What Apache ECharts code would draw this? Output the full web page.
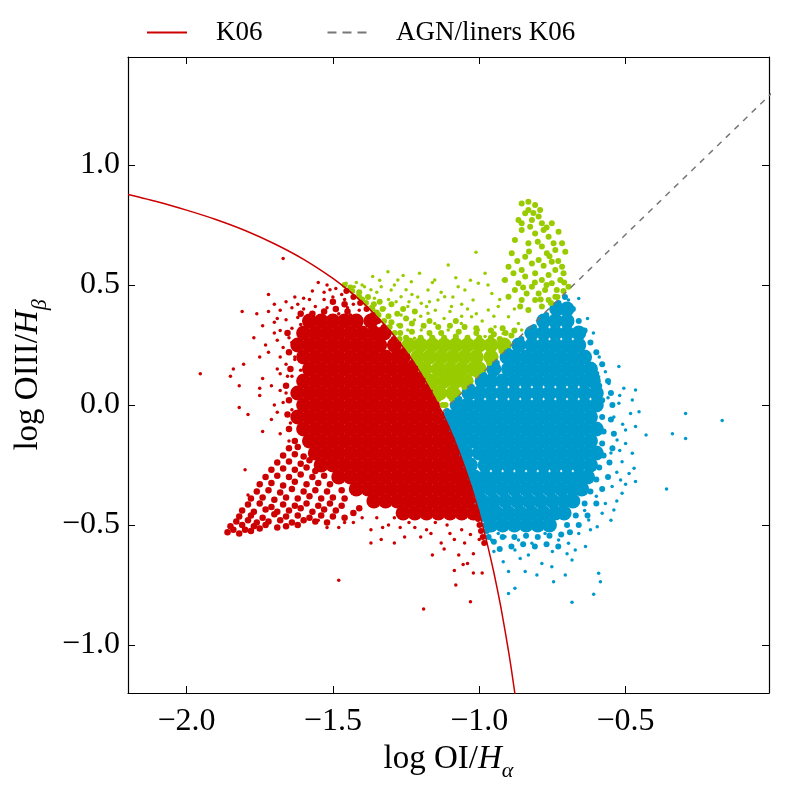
<!DOCTYPE html>
<html>
<head>
<meta charset="utf-8">
<script src="https://cdn.jsdelivr.net/npm/echarts@6/dist/echarts.min.js"></script>
<style>
  html, body { margin: 0; padding: 0; background: #fff; }
  #main { width: 800px; height: 800px; }
</style>
</head>
<body>
<div id="main"></div>
<script>
// tick values
var xTicks = [-2.0, -1.5, -1.0, -0.5];
var yTicks = [-1.0, -0.5, 0.0, 0.5, 1.0];

// K06 demarcation
var k06Line = [[-2.2,0.877],[-2.1,0.847],[-2.0,0.812],[-1.9,0.773],[-1.8,0.727],[-1.7,0.672],
  [-1.6,0.607],[-1.5,0.528],[-1.45,0.481],[-1.4,0.429],[-1.35,0.369],[-1.3,0.302],[-1.25,0.224],
  [-1.2,0.133],[-1.15,0.026],[-1.125,-0.035],[-1.1,-0.101],[-1.075,-0.175],[-1.05,-0.257],
  [-1.025,-0.348],[-1.0,-0.450],[-0.975,-0.566],[-0.95,-0.698],[-0.925,-0.849],[-0.9,-1.025],
  [-0.89,-1.103],[-0.88,-1.187],[-0.878,-1.205]];
// AGN / liners separation
var agnLine = [[-1.13,-0.033],[0.0,1.30]];

// dense cores, rows: [y, x, x, ...]
var redCoreRows = [
  [0.35, -1.58,-1.54,-1.50,-1.46,-1.42,-1.37],
  [0.30, -1.60,-1.56,-1.52,-1.48,-1.44,-1.40,-1.36,-1.325],
  [0.25, -1.62,-1.58,-1.54,-1.50,-1.46,-1.42,-1.38,-1.34,-1.29],
  [0.20, -1.60,-1.56,-1.52,-1.48,-1.44,-1.40,-1.36,-1.32,-1.28,-1.26],
  [0.15, -1.58,-1.54,-1.50,-1.46,-1.42,-1.38,-1.34,-1.30,-1.26,-1.23],
  [0.10, -1.60,-1.56,-1.52,-1.48,-1.44,-1.40,-1.36,-1.32,-1.28,-1.24,-1.205],
  [0.05, -1.62,-1.58,-1.54,-1.50,-1.46,-1.42,-1.38,-1.34,-1.30,-1.26,-1.22,-1.18],
  [0.00, -1.60,-1.56,-1.52,-1.48,-1.44,-1.40,-1.36,-1.32,-1.28,-1.24,-1.20,-1.16],
  [-0.05, -1.62,-1.58,-1.54,-1.50,-1.46,-1.42,-1.38,-1.34,-1.30,-1.26,-1.22,-1.18,-1.14],
  [-0.10, -1.60,-1.56,-1.52,-1.48,-1.44,-1.40,-1.36,-1.32,-1.28,-1.24,-1.20,-1.16,-1.12],
  [-0.15, -1.58,-1.54,-1.50,-1.46,-1.42,-1.38,-1.34,-1.30,-1.26,-1.22,-1.18,-1.14,-1.10],
  [-0.20, -1.56,-1.52,-1.48,-1.44,-1.40,-1.36,-1.32,-1.28,-1.24,-1.20,-1.16,-1.12,-1.087],
  [-0.25, -1.54,-1.50,-1.46,-1.42,-1.38,-1.34,-1.30,-1.26,-1.22,-1.18,-1.14,-1.10,-1.072],
  [-0.30, -1.48,-1.44,-1.40,-1.36,-1.32,-1.28,-1.24,-1.20,-1.16,-1.12,-1.08,-1.058],
  [-0.35, -1.42,-1.38,-1.34,-1.30,-1.26,-1.22,-1.18,-1.14,-1.10,-1.06,-1.045],
  [-0.40, -1.36,-1.32,-1.28,-1.24,-1.20,-1.16,-1.12,-1.08,-1.04],
  [-0.45, -1.26,-1.22,-1.18,-1.14,-1.10,-1.06,-1.02]
];
var greenCoreRows = [
  [0.05, -1.135,-1.09],
  [0.10, -1.16,-1.12,-1.08,-1.045],
  [0.15, -1.185,-1.14,-1.10,-1.06,-1.02,-1.00],
  [0.20, -1.21,-1.17,-1.13,-1.09,-1.05,-1.01,-0.96],
  [0.25, -1.24,-1.20,-1.16,-1.12,-1.08,-1.04,-1.00,-0.96,-0.915]
];
var blueCoreRows = [
  [0.40, -0.735,-0.70],
  [0.35, -0.78,-0.74,-0.70],
  [0.30, -0.82,-0.78,-0.74,-0.70,-0.66],
  [0.25, -0.865,-0.82,-0.78,-0.74,-0.70,-0.66],
  [0.20, -0.905,-0.88,-0.84,-0.80,-0.76,-0.72,-0.68,-0.64],
  [0.15, -0.95,-0.90,-0.86,-0.82,-0.78,-0.74,-0.70,-0.66,-0.62],
  [0.10, -0.99,-0.96,-0.92,-0.88,-0.84,-0.80,-0.76,-0.72,-0.68,-0.64,-0.61],
  [0.05, -1.035,-1.00,-0.96,-0.92,-0.88,-0.84,-0.80,-0.76,-0.72,-0.68,-0.64,-0.60],
  [0.00, -1.075,-1.04,-1.00,-0.96,-0.92,-0.88,-0.84,-0.80,-0.76,-0.72,-0.68,-0.64,-0.60],
  [-0.05, -1.097,-1.06,-1.02,-0.98,-0.94,-0.90,-0.86,-0.82,-0.78,-0.74,-0.70,-0.66,-0.62],
  [-0.10, -1.078,-1.04,-1.00,-0.96,-0.92,-0.88,-0.84,-0.80,-0.76,-0.72,-0.68,-0.64,-0.60],
  [-0.15, -1.06,-1.02,-0.98,-0.94,-0.90,-0.86,-0.82,-0.78,-0.74,-0.70,-0.66,-0.62],
  [-0.20, -1.045,-1.00,-0.96,-0.92,-0.88,-0.84,-0.80,-0.76,-0.72,-0.68,-0.64,-0.60],
  [-0.25, -1.03,-0.98,-0.94,-0.90,-0.86,-0.82,-0.78,-0.74,-0.70,-0.66,-0.62],
  [-0.30, -1.016,-0.98,-0.94,-0.90,-0.86,-0.82,-0.78,-0.74,-0.70,-0.66,-0.63],
  [-0.35, -1.00,-0.96,-0.92,-0.88,-0.84,-0.80,-0.76,-0.72,-0.68,-0.65],
  [-0.40, -0.99,-0.95,-0.91,-0.87,-0.83,-0.79,-0.75,-0.71,-0.68],
  [-0.45, -0.975,-0.94,-0.90,-0.86,-0.82,-0.78,-0.74,-0.71],
  [-0.50, -0.96,-0.92,-0.88,-0.84,-0.80,-0.76]
];

// points hugging the class boundaries
var redEdge = [[-1.454,0.475],[-1.430,0.45],[-1.407,0.425],[-1.385,0.40],[-1.364,0.375],[-1.345,0.35],
  [-1.326,0.325],[-1.309,0.30],[-1.292,0.275],[-1.276,0.25],[-1.261,0.225],[-1.246,0.20],[-1.232,0.175],
  [-1.219,0.15],[-1.206,0.125],[-1.194,0.10],[-1.182,0.075],[-1.170,0.05],[-1.159,0.025],[-1.149,0.0],
  [-1.139,-0.025],[-1.129,-0.05],[-1.120,-0.075],[-1.111,-0.10],[-1.102,-0.125],[-1.093,-0.15],
  [-1.085,-0.175],[-1.077,-0.20],[-1.070,-0.225],[-1.062,-0.25],[-1.055,-0.275],[-1.048,-0.30],
  [-1.041,-0.325],[-1.035,-0.35],[-1.028,-0.375],[-1.022,-0.40],[-1.016,-0.425],[-1.010,-0.45],
  [-1.004,-0.475],[-0.999,-0.50],[-0.994,-0.525],[-0.988,-0.55],[-0.983,-0.575]];
var greenEdge = [[-1.460,0.50],[-1.434,0.475],[-1.410,0.45],[-1.387,0.425],[-1.365,0.40],[-1.344,0.375],
  [-1.325,0.35],[-1.306,0.325],[-1.289,0.30],[-1.272,0.275],[-1.256,0.25],[-1.241,0.225],[-1.226,0.20],
  [-1.212,0.175],[-1.199,0.15],[-1.186,0.125],[-1.174,0.10],[-1.162,0.075],[-1.150,0.05],[-1.139,0.025],
  [-1.125,0.0],[-1.115,0.0],[-1.094,0.025],[-1.072,0.05],[-1.051,0.075],[-1.030,0.10],[-1.009,0.125],
  [-0.988,0.15],[-0.966,0.175],[-0.945,0.20],[-0.924,0.225],[-0.903,0.25],[-0.755,0.425],[-0.733,0.45],
  [-0.712,0.475]];
var blueEdge = [[-1.110,-0.025],[-1.089,0.0],[-1.068,0.025],[-1.046,0.05],[-1.025,0.075],[-1.004,0.10],
  [-0.983,0.125],[-0.962,0.15],[-0.940,0.175],[-0.919,0.20],[-0.898,0.225],[-0.877,0.25],[-0.856,0.275],
  [-0.835,0.30],[-0.813,0.325],[-0.792,0.35],[-0.771,0.375],[-0.750,0.40],[-0.729,0.425],[-0.707,0.45],
  [-1.109,-0.05],[-1.100,-0.075],[-1.091,-0.10],[-1.082,-0.125],[-1.073,-0.15],[-1.065,-0.175],
  [-1.057,-0.20],[-1.050,-0.225],[-1.042,-0.25],[-1.035,-0.275],[-1.028,-0.30],[-1.021,-0.325],
  [-1.015,-0.35],[-1.008,-0.375],[-1.002,-0.40],[-0.996,-0.425],[-0.990,-0.45],[-0.984,-0.475],
  [-0.979,-0.50],[-0.974,-0.525],[-0.968,-0.55]];

// medium-density areas
var redWing = [
  [-1.86,-0.53],[-1.84,-0.52],[-1.82,-0.535],[-1.80,-0.52],[-1.78,-0.525],[-1.75,-0.515],
  [-1.85,-0.505],[-1.81,-0.50],[-1.77,-0.505],[-1.73,-0.50],[-1.69,-0.51],[-1.66,-0.505],[-1.62,-0.50],
  [-1.83,-0.485],[-1.79,-0.48],[-1.76,-0.49],[-1.72,-0.485],[-1.68,-0.48],[-1.64,-0.49],[-1.60,-0.48],
  [-1.56,-0.485],[-1.52,-0.49],
  [-1.82,-0.465],[-1.78,-0.46],[-1.74,-0.47],[-1.70,-0.455],[-1.66,-0.465],[-1.62,-0.46],[-1.58,-0.47],
  [-1.54,-0.46],[-1.50,-0.465],[-1.46,-0.47],
  [-1.81,-0.44],[-1.77,-0.445],[-1.73,-0.435],[-1.69,-0.445],[-1.65,-0.44],[-1.61,-0.43],[-1.57,-0.445],
  [-1.53,-0.435],[-1.49,-0.44],[-1.43,-0.45],
  [-1.79,-0.415],[-1.75,-0.41],[-1.71,-0.425],[-1.67,-0.415],[-1.63,-0.42],[-1.59,-0.41],[-1.55,-0.42],
  [-1.51,-0.41],[-1.47,-0.42],[-1.41,-0.43],
  [-1.78,-0.39],[-1.74,-0.385],[-1.70,-0.395],[-1.66,-0.385],[-1.62,-0.39],[-1.58,-0.38],[-1.54,-0.39],
  [-1.50,-0.385],[-1.46,-0.39],
  [-1.76,-0.36],[-1.72,-0.355],[-1.68,-0.365],[-1.64,-0.35],[-1.60,-0.36],[-1.56,-0.355],[-1.52,-0.36],
  [-1.47,-0.355],
  [-1.75,-0.33],[-1.71,-0.325],[-1.67,-0.335],[-1.63,-0.32],[-1.59,-0.33],[-1.55,-0.325],[-1.51,-0.33],
  [-1.73,-0.30],[-1.69,-0.295],[-1.65,-0.30],[-1.61,-0.29],[-1.57,-0.30],[-1.53,-0.295],
  [-1.71,-0.27],[-1.67,-0.265],[-1.63,-0.27],[-1.59,-0.26],[-1.56,-0.275],
  [-1.69,-0.24],[-1.65,-0.235],[-1.61,-0.245],[-1.58,-0.23],
  [-1.67,-0.21],[-1.63,-0.205],[-1.60,-0.215],
  [-1.65,-0.18],[-1.62,-0.175],[-1.63,-0.15],
  [-1.655,0.30],[-1.65,0.22],[-1.645,0.15],[-1.66,0.08],[-1.65,0.02],[-1.655,-0.04],[-1.65,-0.10],
  [-1.53,0.39],[-1.49,0.40],[-1.45,0.39],[-1.57,0.38],[-1.61,0.38],[-1.50,0.43],[-1.46,0.42]
];
var greenMid = [
  [-1.44,0.49],[-1.41,0.47],[-1.38,0.45],[-1.40,0.44],[-1.36,0.42],[-1.33,0.40],[-1.35,0.385],
  [-1.31,0.37],[-1.30,0.345],[-1.27,0.33],[-1.23,0.34],[-1.19,0.33],[-1.14,0.325],[-1.10,0.33],
  [-1.05,0.325],[-1.01,0.32],[-0.96,0.31],[-0.92,0.32],[-0.89,0.29],[-1.25,0.36],[-1.17,0.35],
  [-1.08,0.35],[-1.28,0.38],[-1.22,0.39],[-1.34,0.43],[-1.30,0.42],[-1.26,0.40],[-1.12,0.28],
  [-1.04,0.28],[-0.96,0.28],[-1.20,0.28],
  [-1.27,0.30],[-1.23,0.305],[-1.17,0.30],[-1.13,0.30],[-1.07,0.305],[-1.01,0.30],[-0.95,0.295],
  [-0.91,0.30],[-0.88,0.31],[-1.25,0.28],[-1.16,0.28],[-1.08,0.285],[-1.00,0.28],[-0.93,0.275]
];
var blueMid = [
  [-0.56,0.10],[-0.55,0.05],[-0.545,0.0],[-0.55,-0.06],[-0.54,-0.12],[-0.545,-0.18],[-0.555,-0.24],
  [-0.56,-0.30],[-0.58,-0.35],[-0.60,-0.41],[-0.63,-0.46],[-0.66,-0.50],[-0.69,-0.53],[-0.72,-0.54],
  [-0.76,-0.545],[-0.80,-0.55],[-0.84,-0.545],[-0.88,-0.55],[-0.92,-0.55],[-0.95,-0.57],[-0.93,-0.60],
  [-0.89,-0.59],[-0.85,-0.58],[-0.81,-0.59],[-0.77,-0.58],[-0.73,-0.59],[-0.58,0.17],[-0.60,0.22],
  [-0.62,0.26],[-0.64,0.31],[-0.66,0.35],[-0.68,0.40],
  [-0.58,-0.05],[-0.575,-0.11],[-0.58,-0.16],[-0.575,-0.21],[-0.59,-0.26],[-0.60,-0.31],[-0.62,-0.36],
  [-0.64,-0.41],[-0.67,-0.46],[-0.70,-0.50],[-0.58,0.02],[-0.59,0.08],[-0.60,0.13]
];
var greenHorn = [
  [-0.855,0.840],[-0.832,0.847],[-0.809,0.833],[-0.792,0.812],[-0.843,0.799],[-0.866,0.771],[-0.82,0.771],
  [-0.786,0.757],[-0.752,0.757],[-0.855,0.729],[-0.809,0.715],[-0.763,0.701],[-0.729,0.722],[-0.878,0.687],
  [-0.832,0.674],[-0.786,0.660],[-0.74,0.646],[-0.706,0.639],[-0.889,0.632],[-0.843,0.618],[-0.797,0.604],
  [-0.752,0.597],[-0.717,0.576],[-0.90,0.576],[-0.855,0.562],[-0.809,0.549],[-0.763,0.542],[-0.723,0.521],
  [-0.912,0.521],[-0.866,0.507],[-0.82,0.493],[-0.775,0.479],[-0.735,0.479],[-0.695,0.493],[-0.90,0.451],
  [-0.855,0.437],[-0.809,0.437],[-0.763,0.437],[-0.832,0.396],[-0.786,0.41],
  [-0.832,0.812],[-0.797,0.785],[-0.855,0.757],[-0.826,0.743],[-0.78,0.729],[-0.746,0.674],[-0.717,0.674],
  [-0.769,0.632],[-0.82,0.59],[-0.74,0.562],[-0.786,0.521],[-0.843,0.535],[-0.883,0.549],[-0.752,0.507],
  [-0.712,0.549],[-0.797,0.465],[-0.838,0.465],[-0.878,0.479],[-0.74,0.451],
  [-0.815,0.80],[-0.77,0.74],[-0.80,0.68],[-0.76,0.62],[-0.73,0.60],[-0.78,0.58],[-0.83,0.64],
  [-0.87,0.60],[-0.81,0.51],[-0.77,0.50],[-0.71,0.51],[-0.85,0.49],[-0.79,0.44],[-0.86,0.41]
];

// sparse outskirts
var redSparse = [
  [-1.55,0.51],[-1.52,0.50],[-1.49,0.485],[-1.53,0.47],[-1.57,0.475],[-1.50,0.45],[-1.46,0.44],
  [-1.43,0.42],[-1.41,0.395],[-1.45,0.405],[-1.53,0.44],[-1.60,0.445],[-1.63,0.45],[-1.66,0.43],
  [-1.70,0.42],[-1.72,0.46],[-1.72,0.39],[-1.68,0.395],[-1.64,0.405],[-1.60,0.40],[-1.56,0.41],
  [-1.52,0.405],[-1.48,0.38],[-1.44,0.375],[-1.62,0.365],[-1.66,0.355],[-1.70,0.345],[-1.74,0.33],
  [-1.68,0.31],[-1.64,0.32],[-1.61,0.335],[-1.65,0.28],[-1.69,0.27],[-1.72,0.22],[-1.67,0.24],
  [-1.63,0.20],[-1.66,0.17],[-1.64,0.12],[-1.67,0.61],[-1.81,0.39],[-1.76,0.38],[-1.77,0.28],
  [-1.953,0.13],[-1.85,0.12],[-1.805,0.17],[-1.84,0.15],[-1.75,0.20],[-1.74,0.11],[-1.82,0.08],
  [-1.75,0.07],[-1.68,0.20],[-1.68,0.06],[-1.71,0.08],[-1.655,0.12],[-1.63,0.19],[-1.82,-0.01],
  [-1.79,-0.04],[-1.74,-0.11],[-1.69,-0.03],[-1.67,0.01],[-1.645,-0.075],[-1.61,-0.05],[-1.68,-0.12],
  [-1.62,0.035],[-1.75,0.04],[-1.68,0.13],[-1.61,0.145],[-1.65,-0.15],[-1.64,-0.02],[-1.66,0.05],
  [-1.64,0.26],[-1.80,-0.27],[-1.79,-0.375],[-1.70,0.30],[-1.73,0.25],[-1.69,0.36],[-1.58,0.44],
  [-1.47,0.46],[-1.51,0.48],[-1.62,0.42],[-1.69,0.15],[-1.71,-0.06],[-1.70,0.00],
  [-1.37,-0.52],[-1.33,-0.51],[-1.29,-0.47],[-1.37,-0.575],[-1.335,-0.56],[-1.29,-0.575],[-1.255,-0.55],
  [-1.22,-0.51],[-1.20,-0.55],[-1.165,-0.535],[-1.16,-0.625],[-1.13,-0.575],[-1.10,-0.535],[-1.085,-0.56],
  [-1.07,-0.625],[-1.05,-0.575],[-1.04,-0.66],[-1.085,-0.69],[-1.055,-0.665],[-1.02,-0.70],[-0.99,-0.70],
  [-1.02,-0.62],[-1.00,-0.56],[-1.27,-0.51],[-1.40,-0.47],[-1.43,-0.49],[-1.46,-0.49],[-1.48,-0.51],
  [-1.52,-0.51],[-1.55,-0.48],[-1.48,-0.73],[-1.19,-0.85],[-1.03,-0.82],[-1.08,-0.75],[-1.12,-0.60],
  [-1.18,-0.52],[-1.24,-0.49],[-1.31,-0.50],[-1.06,-0.52],[-1.03,-0.54],[-1.15,-0.49],[-1.11,-0.50],
  [-1.35,-0.47]
];
var greenSparse = [
  [-1.455,0.507],[-1.427,0.493],[-1.392,0.493],[-1.37,0.48],[-1.415,0.458],[-1.358,0.445],[-1.335,0.493],
  [-1.312,0.555],[-1.364,0.535],[-1.278,0.521],[-1.301,0.479],[-1.267,0.451],[-1.232,0.514],[-1.204,0.549],
  [-1.175,0.479],[-1.152,0.521],[-1.106,0.583],[-1.072,0.493],[-1.118,0.451],[-1.198,0.424],[-1.244,0.41],
  [-1.284,0.43],[-1.324,0.403],[-1.37,0.41],[-1.312,0.368],[-1.267,0.375],[-1.221,0.354],[-1.175,0.382],
  [-1.141,0.437],[-1.095,0.41],[-1.049,0.479],[-1.021,0.437],[-1.011,0.636],[-1.003,0.507],[-0.98,0.549],
  [-0.957,0.465],[-0.969,0.396],[-1.026,0.368],[-1.061,0.34],[-1.106,0.312],[-1.152,0.34],[-1.198,0.312],
  [-1.244,0.312],[-1.278,0.333],[-0.918,0.521],[-0.935,0.41],[-0.90,0.368],[-1.003,0.312],[-0.946,0.326],
  [-0.918,0.298],[-0.855,0.312],[-0.98,0.285],[-1.038,0.285],[-1.083,0.27],[-1.164,0.285],[-1.221,0.278],
  [-0.866,0.34],[-1.23,0.46],[-1.15,0.395],[-1.06,0.42],[-0.99,0.35],[-1.12,0.36],[-1.20,0.37],[-1.31,0.44],
  [-1.40,0.50],[-1.35,0.47],[-1.29,0.50],[-1.25,0.48],[-1.21,0.45],[-1.17,0.43],[-1.13,0.47],[-1.09,0.45],
  [-1.04,0.40],[-1.01,0.38],[-0.95,0.37],[-0.93,0.44],[-0.97,0.50],[-1.03,0.52],[-1.08,0.53],[-1.16,0.51],
  [-1.26,0.54],[-1.34,0.52],[-1.42,0.51],[-1.10,0.39],[-1.18,0.41],[-1.24,0.43],[-1.06,0.37],[-0.88,0.40]
];
var blueSparse = [
  [-0.66,0.444],[-0.695,0.437],[-0.729,0.41],[-0.683,0.396],[-0.706,0.354],[-0.66,0.285],[-0.672,0.243],
  [-0.655,0.201],[-0.626,0.174],[-0.592,0.118],[-0.569,0.139],[-0.523,0.16],[-0.557,0.09],[-0.506,0.07],
  [-0.466,0.063],[-0.477,0.021],[-0.523,0.007],[-0.454,-0.028],[-0.483,-0.035],[-0.466,-0.09],[-0.50,-0.104],
  [-0.529,-0.146],[-0.50,-0.16],[-0.477,-0.201],[-0.512,-0.236],[-0.471,-0.264],[-0.488,-0.285],
  [-0.466,-0.319],[-0.517,-0.312],[-0.546,-0.34],[-0.512,-0.368],[-0.54,-0.437],[-0.569,-0.41],
  [-0.58,-0.451],[-0.597,-0.507],[-0.626,-0.479],[-0.66,-0.535],[-0.695,-0.576],[-0.729,-0.563],
  [-0.775,-0.535],[-0.82,-0.576],[-0.866,-0.563],[-0.912,-0.549],[-0.958,-0.563],[-0.935,-0.535],
  [-0.878,-0.604],[-0.832,-0.625],[-0.786,-0.66],[-0.752,-0.674],[-0.706,-0.708],[-0.672,-0.604],
  [-0.683,-0.646],[-0.90,-0.694],[-0.843,-0.694],[-0.803,-0.708],[-0.592,-0.701],[-0.586,-0.736],
  [-0.90,-0.785],[-0.878,-0.764],[-0.683,-0.822],[-0.609,-0.789],[-0.746,-0.736],[-0.918,-0.653],
  [-0.637,-0.59],[-0.54,-0.05],[-0.55,-0.20],[-0.53,-0.28],[-0.56,0.03],[-0.60,-0.38],[-0.64,-0.44],
  [-0.52,0.04],[-0.51,-0.08],[-0.52,-0.19],[-0.50,-0.33],[-0.53,-0.40],[-0.55,-0.48],[-0.61,0.30],
  [-0.63,0.36],[-0.59,0.20],[-0.62,-0.52],[-0.70,-0.62],[-0.75,-0.61],[-0.86,-0.64],[-0.95,-0.61],
  [-0.295,-0.035],[-0.17,-0.065],[-0.34,-0.12],[-0.295,-0.14],[-0.43,-0.125],[-0.36,-0.35]
];

function flattenRows(rows) {
  var pts = [];
  rows.forEach(function (r) {
    for (var i = 1; i < r.length; i++) pts.push([r[i], r[0]]);
  });
  return pts;
}

var RED = '#cc0000', GREEN = '#99cc00', BLUE = '#0099cc';
var FONT = 'Liberation Serif';

function fmt(v) {
  var s = Math.abs(v).toFixed(1);
  return v < 0 ? '\u2212' + s : s;
}

function dots(data, color, size) {
  return {
    type: 'scatter', data: data, symbolSize: size,
    itemStyle: { color: color, opacity: 1 }, silent: true
  };
}

var nameRich = {
  n: { fontFamily: FONT, fontSize: 33, color: '#000', verticalAlign: 'top' },
  i: { fontFamily: FONT, fontSize: 33, fontStyle: 'italic', color: '#000', verticalAlign: 'top' },
  s: { fontFamily: FONT, fontSize: 22, fontStyle: 'italic', color: '#000', verticalAlign: 'top', padding: [17, 0, 0, 0] }
};

var myChart = echarts.init(document.getElementById('main'));
var axisLineStyle = { color: '#000', width: 1.2 };
var option = {
  animation: false,
  backgroundColor: '#fff',
  grid: { left: 128, right: 31, top: 57, bottom: 107 },
  legend: {
    data: [
      { name: 'K06', icon: 'path://M0,0H40V2H0Z' },
      { name: 'AGN/liners K06', icon: 'path://M0,0H9V2H0Z M15,0H24V2H15Z M30,0H39V2H30Z' }
    ],
    left: 142, top: 14,
    itemWidth: 40, itemHeight: 2, itemGap: 65,
    textStyle: { fontFamily: FONT, fontSize: 27, color: '#000', padding: [0, 0, 0, 24] }
  },
  xAxis: [{
    type: 'value', min: -2.2, max: -0.01,
    splitLine: { show: false },
    axisLine: { onZero: false, lineStyle: axisLineStyle },
    axisTick: { inside: true, length: 7, customValues: xTicks, lineStyle: { color: '#000' } },
    axisLabel: { customValues: xTicks, formatter: fmt, fontFamily: FONT, fontSize: 32, color: '#000', margin: 13 },
    name: '{n|log OI/}{i|H}{s|\u03b1}',
    nameLocation: 'middle', nameGap: 45,
    nameTextStyle: { rich: nameRich }
  }, {
    type: 'value', min: -2.2, max: -0.01, position: 'top',
    splitLine: { show: false },
    axisLine: { onZero: false, lineStyle: axisLineStyle },
    axisTick: { inside: true, length: 7, customValues: xTicks, lineStyle: { color: '#000' } },
    axisLabel: { show: false }
  }],
  yAxis: [{
    type: 'value', min: -1.2, max: 1.45,
    splitLine: { show: false },
    axisLine: { onZero: false, lineStyle: axisLineStyle },
    axisTick: { inside: true, length: 7, customValues: yTicks, lineStyle: { color: '#000' } },
    axisLabel: { customValues: yTicks, formatter: fmt, fontFamily: FONT, fontSize: 32, color: '#000', margin: 8 },
    name: '{n|log OIII/}{i|H}{s|\u03b2}',
    nameLocation: 'middle', nameGap: 76, nameRotate: 90,
    nameTextStyle: { rich: nameRich }
  }, {
    type: 'value', min: -1.2, max: 1.45, position: 'right',
    splitLine: { show: false },
    axisLine: { onZero: false, lineStyle: axisLineStyle },
    axisTick: { inside: true, length: 7, customValues: yTicks, lineStyle: { color: '#000' } },
    axisLabel: { show: false }
  }],
  series: [
    {
      name: 'AGN/liners K06', type: 'line', data: agnLine, symbol: 'none',
      lineStyle: { color: '#777777', width: 1.5, type: [6, 6] }, itemStyle: { color: '#777777' }
    },
    {
      name: 'K06', type: 'line', data: k06Line, symbol: 'none', smooth: 0.2,
      lineStyle: { color: RED, width: 1.5 }, itemStyle: { color: RED }
    },
    dots(flattenRows(redCoreRows), RED, 15),
    dots(flattenRows(greenCoreRows), GREEN, 15),
    dots(flattenRows(blueCoreRows), BLUE, 15),
    dots(redWing, RED, 6.5),
    dots(greenMid, GREEN, 6),
    dots(blueMid, BLUE, 6),
    dots(greenHorn, GREEN, 6),
    dots(redSparse, RED, 3.5),
    dots(greenSparse, GREEN, 3.5),
    dots(blueSparse, BLUE, 3.5),
    dots(redEdge, RED, 6),
    dots(greenEdge, GREEN, 6),
    dots(blueEdge, BLUE, 6)
  ]
};
myChart.setOption(option);
</script>
</body>
</html>
